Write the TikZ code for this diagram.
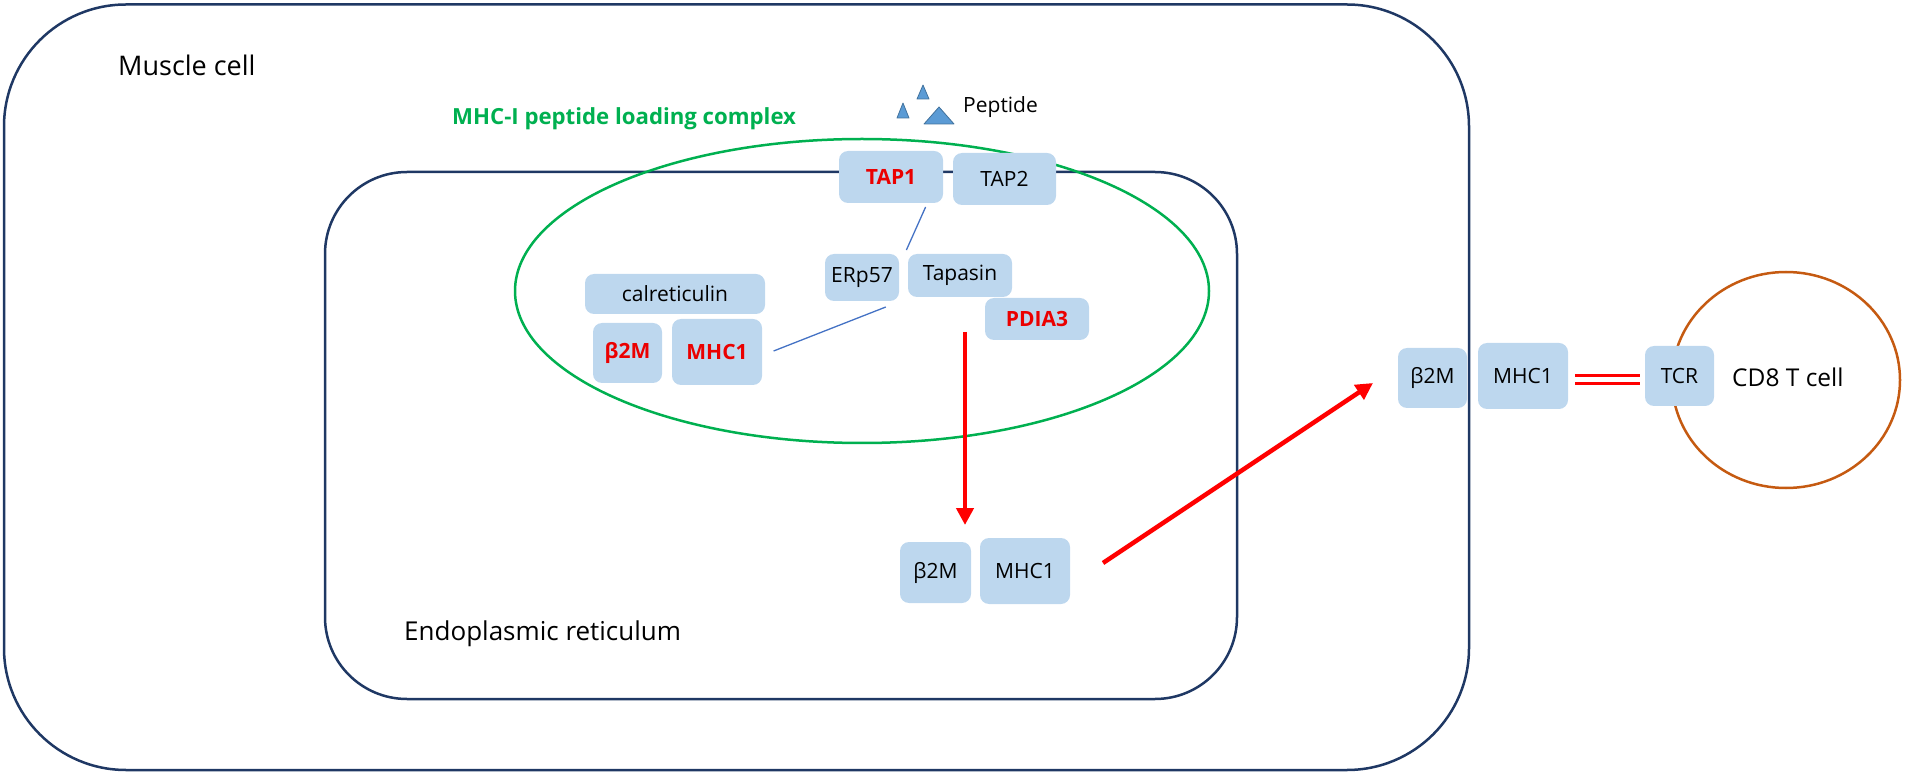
\documentclass[tikz,border=0pt]{standalone}
\usepackage{fontspec}
\setmainfont{Open Sans}
\usetikzlibrary{arrows.meta}
\definecolor{cellblue}{RGB}{31,56,100}
\definecolor{boxblue}{RGB}{189,215,238}
\definecolor{plcgreen}{RGB}{0,176,80}
\definecolor{tcellcol}{RGB}{197,90,17}
\definecolor{linkblue}{RGB}{68,114,196}
\definecolor{pepfill}{RGB}{91,155,213}
\definecolor{pepedge}{RGB}{65,113,156}
\definecolor{hitred}{RGB}{235,0,0}
\tikzset{
  membrane/.style={draw=cellblue, line width=2.5pt},
  plc/.style={draw=plcgreen, line width=2.5pt},
  tcellring/.style={draw=tcellcol, line width=2.5pt},
  protein/.style={fill=boxblue, rounded corners=9pt, inner sep=0pt, align=center,
    font=\fontsize{21}{25}\selectfont},
  hit/.style={protein, text=hitred, font=\fontsize{21}{25}\selectfont\bfseries},
  link/.style={draw=linkblue, line width=1.3pt},
  redarrow/.style={draw=red, line width=4.5pt, -{Triangle[length=17pt,width=17pt]}},
  bondline/.style={draw=red, line width=3pt, double=white, double distance=5pt},
  pep/.style={fill=pepfill, draw=pepedge, line width=0.8pt, line join=round},
  lbl/.style={anchor=base west, inner sep=0pt}
}
\begin{document}
\begin{tikzpicture}[x=1pt,y=-1pt]
\useasboundingbox (0,0) rectangle (1907,775);
% muscle cell
\draw[membrane, rounded corners=122pt] (4,4.5) rectangle (1469,770);
\node[lbl, font=\fontsize{27}{32}\selectfont] (muscle) at (118,76) {Muscle cell};
% endoplasmic reticulum
\draw[membrane, rounded corners=82pt] (325,172) rectangle (1237,699);
\node[lbl, font=\fontsize{26}{31}\selectfont] (erlabel) at (404,640) {Endoplasmic reticulum};
% peptide loading complex
\draw[plc] (862,291) ellipse [x radius=347pt, y radius=152pt];
\node[lbl, text=plcgreen, font=\fontsize{22.2}{26}\selectfont\bfseries] (plclabel) at (452,125) {MHC-I peptide loading complex};
% peptides
\filldraw[pep] (897,118) -- (909,118) -- (903,103) -- cycle;
\filldraw[pep] (917,99) -- (929,99) -- (923,85) -- cycle;
\filldraw[pep] (924,124) -- (954,124) -- (939,107) -- cycle;
\node[lbl, font=\fontsize{21}{25}\selectfont] (peplabel) at (963,113) {Peptide};
% proteins in the complex
\node[hit, minimum width=104pt, minimum height=52pt] (tap1) at (891,177) {TAP1};
\node[protein, minimum width=103pt, minimum height=52pt] (tap2) at (1004.5,179) {TAP2};
\node[protein, minimum width=74pt, minimum height=47pt] (erp) at (862,277.5) {ERp57};
\node[protein, minimum width=104pt, minimum height=43pt] (tapasin) at (960,275.5) {Tapasin};
\node[protein, minimum width=180pt, minimum height=40pt] (calr) at (675,294) {calreticulin};
\node[hit, minimum width=69pt, minimum height=60pt] (b2m) at (627.5,353) {β2M};
\node[hit, minimum width=90pt, minimum height=66pt] (mhc) at (717,352) {MHC1};
\node[hit, minimum width=104pt, minimum height=42pt] (pdia) at (1037,319) {PDIA3};
% links
\coordinate (l1a) at (925.6,207);
\coordinate (l1b) at (906.4,250);
\draw[link] (l1a) -- (l1b);
\coordinate (l2a) at (885.8,307);
\coordinate (l2b) at (773.6,351);
\draw[link] (l2a) -- (l2b);
% loaded MHC in ER
\node[protein, minimum width=71pt, minimum height=61pt] (lb2m) at (935.5,572.5) {β2M};
\node[protein, minimum width=90pt, minimum height=66pt] (lmhc) at (1025,571) {MHC1};
\coordinate (a1s) at (965,332);
\coordinate (a1e) at (965,525);
\draw[redarrow] (a1s) -- (a1e);
% surface MHC
\node[protein, minimum width=69pt, minimum height=60pt] (rb2m) at (1432.5,378) {β2M};
\node[protein, minimum width=90pt, minimum height=66pt] (rmhc) at (1523,376) {MHC1};
\coordinate (a2s) at (1103,563);
\coordinate (a2e) at (1373,383);
\draw[redarrow] (a2s) -- (a2e);
% T cell
\draw[tcellring] (1786,380) ellipse [x radius=114pt, y radius=108pt];
\node[protein, minimum width=69pt, minimum height=60pt] (tcr) at (1679.5,376) {TCR};
\node[lbl, font=\fontsize{24.5}{29}\selectfont] (cd8) at (1732,387) {CD8 T cell};
\draw[bondline] ([xshift=7pt,yshift=-4pt]rmhc.east) -- ([xshift=-5pt,yshift=-4pt]tcr.west);
\end{tikzpicture}
\end{document}
